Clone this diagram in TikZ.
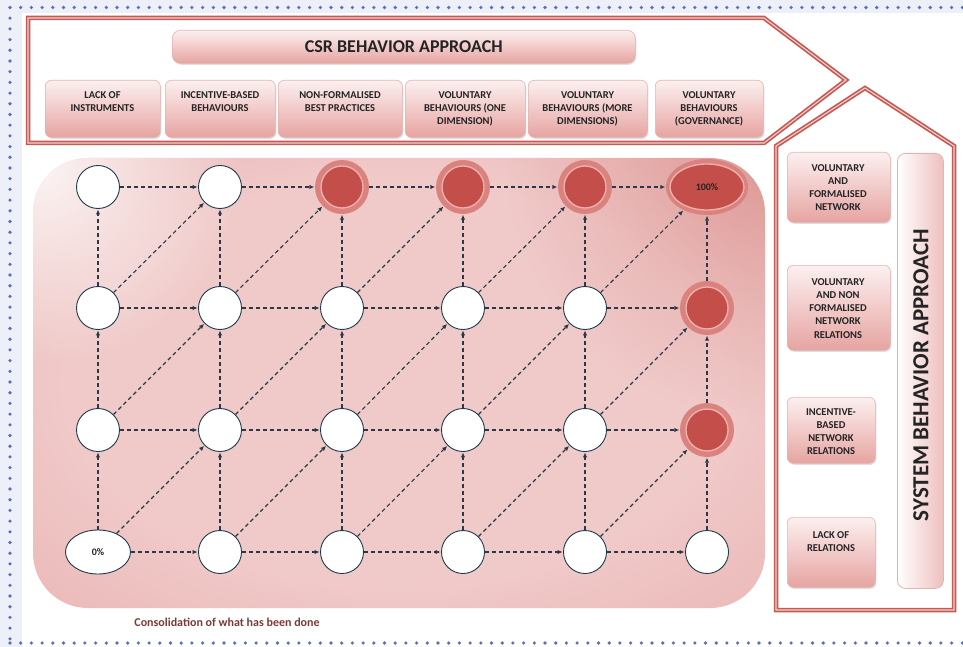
\documentclass[tikz,border=0pt]{standalone}
\usepackage{fontspec}
\setmainfont{Carlito}
\usetikzlibrary{arrows.meta,shadows,fadings,shapes.geometric}

\definecolor{bordred}{HTML}{C55A55}
\definecolor{paleline}{HTML}{F4CFCC}
\definecolor{boxtop}{HTML}{FCF0F0}
\definecolor{boxbot}{HTML}{E6A4A1}
\definecolor{boxedge}{HTML}{E2B4B1}
\definecolor{txt}{HTML}{242424}
\definecolor{regC}{HTML}{F0CAC9}
\definecolor{regM}{HTML}{E7AEAC}
\definecolor{regE}{HTML}{D98F8C}
\definecolor{nodered}{HTML}{C44E4A}
\definecolor{halo}{HTML}{D9827E}
\definecolor{ring}{HTML}{F2B2AD}
\definecolor{wire}{HTML}{2A3947}
\definecolor{nodeedge}{HTML}{1E3A4C}
\definecolor{dotblue}{HTML}{5B6FBF}
\definecolor{margin}{HTML}{EDF0F8}
\definecolor{capt}{HTML}{7C3A36}

\pgfdeclareradialshading{vignette}{\pgfpoint{0bp}{0bp}}{%
  color(0bp)=(regC); color(22bp)=(regC); color(45bp)=(regM); color(72bp)=(regE)}
\tikzfading[name=softspot, inner color=transparent!0, outer color=transparent!100]

\tikzset{
  panel/.style={line join=miter},
  tbox/.style={rounded corners=6pt, draw=boxedge, line width=0.6pt,
    top color=boxtop, bottom color=boxbot,
    drop shadow={shadow xshift=1pt, shadow yshift=-1.5pt, opacity=0.25}},
  lbl/.style={font=\bfseries\fontsize{10.5}{13.3}\selectfont, text=txt,
    align=center, inner sep=0pt, anchor=north},
  wnode/.style={circle, minimum size=43pt, inner sep=0pt, fill=white,
    draw=nodeedge, line width=0.9pt},
  rnode/.style={circle, minimum size=54pt, inner sep=0pt, fill=halo,
    path picture={\draw[ring, line width=1.3pt, fill=nodered]
      (path picture bounding box.center) circle (21pt);}},
  edge/.style={draw=wire, line width=1.1pt, dash pattern=on 4pt off 3pt,
    -{Latex[length=5pt,width=4.5pt]}, shorten >=0.5pt},
}

\begin{document}
\begin{tikzpicture}[x=1pt, y=-1pt]
\useasboundingbox (0,0) rectangle (963,647);
\fill[white] (0,0) rectangle (963,647);
\fill[margin] (0,0) rectangle (963,13);
\fill[margin] (0,0) rectangle (22,647);

% dotted frame
\foreach \i in {0,...,89} {
  \fill[dotblue] (10+\i*10.7,7.5) circle (1.8pt);
  \fill[dotblue] (10+\i*10.7,643) circle (1.8pt);
}
\foreach \i in {1,...,59} \fill[dotblue] (10,7.5+\i*10.7) circle (1.8pt);

% CSR arrow panel
\draw[bordred, line width=4.5pt, panel] (28,18) -- (764,18) -- (846,80) -- (764,143) -- (28,143) -- cycle;
\draw[paleline, line width=1.1pt, panel] (28,18) -- (764,18) -- (846,80) -- (764,143) -- (28,143) -- cycle;

% system panel
\draw[bordred, line width=4.5pt, panel] (776,610) -- (776,146) -- (865,88) -- (954,146) -- (954,610) -- cycle;
\draw[paleline, line width=1.1pt, panel] (776,610) -- (776,146) -- (865,88) -- (954,146) -- (954,610) -- cycle;

% title bar
\node[tbox, minimum width=463pt, minimum height=33pt, anchor=north west, rounded corners=8pt] (title) at (172,30) {};
\node[font=\bfseries\fontsize{18}{20}\selectfont, text=txt] (titletext) at (title.center) {CSR BEHAVIOR APPROACH};

% behaviour boxes
\foreach \nm/\xa/\xb/\t in {
  c1/45/160/{LACK OF\\INSTRUMENTS},
  c2/165/275/{INCENTIVE-BASED\\BEHAVIOURS},
  c3/278/402/{NON-FORMALISED\\BEST PRACTICES},
  c4/405/525/{VOLUNTARY\\BEHAVIOURS (ONE\\DIMENSION)},
  c5/528/647/{VOLUNTARY\\BEHAVIOURS (MORE\\DIMENSIONS)},
  c6/655/763/{VOLUNTARY\\BEHAVIOURS\\(GOVERNANCE)}} {
  \node[tbox, minimum width=\xb-\xa, minimum height=57pt, anchor=north west] (\nm) at (\xa,80) {};
  \node[lbl] (\nm t) at ({(\xa+\xb)/2},91) {\t};
}

% network boxes
\node[tbox, minimum width=103pt, minimum height=70pt, anchor=north west] (s4) at (787,152) {};
\node[lbl] (s4t) at (838,164) {VOLUNTARY\\AND\\FORMALISED\\NETWORK};
\node[tbox, minimum width=103pt, minimum height=85pt, anchor=north west] (s3) at (787,265) {};
\node[lbl] (s3t) at (838,278) {VOLUNTARY\\AND NON\\FORMALISED\\NETWORK\\RELATIONS};
\node[tbox, minimum width=88pt, minimum height=66pt, anchor=north west] (s2) at (787,397) {};
\node[lbl] (s2t) at (831,408) {INCENTIVE-\\BASED\\NETWORK\\RELATIONS};
\node[tbox, minimum width=88pt, minimum height=70pt, anchor=north west] (s1) at (787,517) {};
\node[lbl] (s1t) at (831,531) {LACK OF\\RELATIONS};

% vertical bar
\node[rounded corners=8pt, draw=boxedge, line width=0.8pt, left color=white, right color=boxbot!70,
  minimum width=46pt, minimum height=435pt, anchor=north west] (sysbar) at (897,153) {};
\node[rotate=90, font=\bfseries\fontsize{23}{25}\selectfont, text=txt] (systext) at (921,375) {SYSTEM BEHAVIOR APPROACH};

% progression region
\shade[shading=vignette, rounded corners=55pt] (33,158) rectangle (765,608);
\begin{scope}
  \clip[rounded corners=55pt] (33,158) rectangle (765,608);
  \fill[white, path fading=softspot, opacity=0.85] (40,165) circle (200pt);
  \fill[bordred, path fading=softspot, opacity=0.35] (765,158) circle (260pt);
\end{scope}

% states
\foreach \c/\x in {1/98,2/220,3/342,4/463,5/585,6/707}
  \foreach \r/\y in {1/552,2/430,3/308,4/187} {
    \ifnum\c\r=11
      \node[wnode, ellipse, minimum width=65pt, minimum height=44pt,
        font=\bfseries\fontsize{10}{12}\selectfont, text=txt] (n\c\r) at (\x,\y) {0\%};
    \else\ifnum\c\r=64
      \node[ellipse, minimum width=82pt, minimum height=56pt, inner sep=0pt, fill=halo,
        path picture={\draw[ring, line width=1.3pt, fill=nodered]
          (path picture bounding box.center) ellipse (37pt and 23pt);},
        font=\bfseries\fontsize{10}{12}\selectfont, text=txt] (n\c\r) at (\x,\y) {100\%};
    \else\ifnum\r=4 \ifnum\c>2
      \node[rnode] (n\c\r) at (\x,\y) {};
    \else
      \node[wnode] (n\c\r) at (\x,\y) {};
    \fi
    \else\ifnum\c=6 \ifnum\r>1
      \node[rnode] (n\c\r) at (\x,\y) {};
    \else
      \node[wnode] (n\c\r) at (\x,\y) {};
    \fi
    \else
      \node[wnode] (n\c\r) at (\x,\y) {};
    \fi\fi\fi\fi
  }

% transitions: rightwards, upwards and diagonal
\foreach \c/\d in {1/2,2/3,3/4,4/5,5/6}
  \foreach \r in {1,2,3,4}
    \draw[edge] (n\c\r) -- (n\d\r);
\foreach \c in {1,2,3,4,5,6}
  \foreach \r/\q in {1/2,2/3,3/4}
    \draw[edge] (n\c\r) -- (n\c\q);
\foreach \c/\d in {1/2,2/3,3/4,4/5,5/6}
  \foreach \r/\q in {1/2,2/3,3/4}
    \draw[edge] (n\c\r) -- (n\d\q);

\node[font=\bfseries\fontsize{12}{14}\selectfont, text=capt] (caption) at (227,622) {Consolidation of what has been done};
\end{tikzpicture}
\end{document}
